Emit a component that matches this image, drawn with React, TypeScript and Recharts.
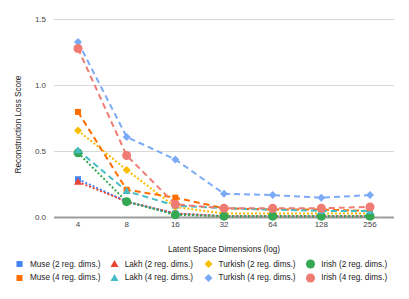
import React from "react";
import {
  LineChart,
  Line,
  XAxis,
  YAxis,
  CartesianGrid,
  ReferenceLine,
  Legend,
} from "recharts";

const dims = ["4", "8", "16", "32", "64", "128", "256"];

const muse2 = [0.29, 0.12, 0.03, 0.01, 0.01, 0.01, 0.01];
const muse4 = [0.8, 0.21, 0.15, 0.07, 0.06, 0.06, 0.05];
const lakh2 = [0.27, 0.12, 0.03, 0.01, 0.01, 0.01, 0.01];
const lakh4 = [0.51, 0.2, 0.09, 0.07, 0.06, 0.05, 0.05];
const turkish2 = [0.66, 0.36, 0.08, 0.03, 0.03, 0.03, 0.03];
const turkish4 = [1.33, 0.61, 0.44, 0.18, 0.17, 0.15, 0.17];
const irish2 = [0.49, 0.12, 0.02, 0.01, 0.01, 0.01, 0.01];
const irish4 = [1.28, 0.47, 0.1, 0.07, 0.07, 0.07, 0.08];

const yTicks = [0, 0.5, 1, 1.5];

type Shape = "square" | "triangle" | "diamond" | "circle";

const series: {
  key: string;
  name: string;
  values: number[];
  color: string;
  shape: Shape;
  dash: string;
}[] = [
  { key: "muse2", name: "Muse (2 reg. dims.)", values: muse2, color: "#4285F4", shape: "square", dash: "2 2" },
  { key: "lakh2", name: "Lakh (2 reg. dims.)", values: lakh2, color: "#EA4335", shape: "triangle", dash: "2 2" },
  { key: "turkish2", name: "Turkish (2 reg. dims.)", values: turkish2, color: "#FBBC04", shape: "diamond", dash: "2 2" },
  { key: "irish2", name: "Irish (2 reg. dims.)", values: irish2, color: "#34A853", shape: "circle", dash: "2 2" },
  { key: "muse4", name: "Muse (4 reg. dims.)", values: muse4, color: "#FF6D01", shape: "square", dash: "6 4" },
  { key: "lakh4", name: "Lakh (4 reg. dims.)", values: lakh4, color: "#46BDC6", shape: "triangle", dash: "6 4" },
  { key: "turkish4", name: "Turkish (4 reg. dims.)", values: turkish4, color: "#7BAAF7", shape: "diamond", dash: "6 4" },
  { key: "irish4", name: "Irish (4 reg. dims.)", values: irish4, color: "#F07B72", shape: "circle", dash: "6 4" },
];

const data = dims.map((d, i) => {
  const row: Record<string, number | string> = { dim: d };
  series.forEach((s) => {
    row[s.key] = s.values[i];
  });
  return row;
});

const font = "Arial, 'Liberation Sans', sans-serif";

function Marker({ shape, color, cx, cy }: { shape: Shape; color: string; cx: number; cy: number }) {
  if (shape === "square") {
    return <rect x={cx - 3} y={cy - 3} width={6} height={6} fill={color} />;
  }
  if (shape === "triangle") {
    return <polygon points={`${cx},${cy - 4} ${cx + 4},${cy + 3} ${cx - 4},${cy + 3}`} fill={color} />;
  }
  if (shape === "diamond") {
    return <polygon points={`${cx},${cy - 4} ${cx + 4},${cy} ${cx},${cy + 4} ${cx - 4},${cy}`} fill={color} />;
  }
  return <circle cx={cx} cy={cy} r={4.5} fill={color} />;
}

function makeDot(shape: Shape, color: string) {
  return (props: any) => {
    const { cx, cy, index } = props;
    if (cx == null || cy == null) return <g key={index} />;
    return <Marker key={index} shape={shape} color={color} cx={cx} cy={cy} />;
  };
}

function LegendGrid() {
  const cols = [0, 1, 2, 3];
  const widths = [96, 95, 104, 90];
  return (
    <div style={{ display: "flex", paddingLeft: 14, fontFamily: font, fontSize: 8.2, color: "#222" }}>
      {cols.map((c) => (
        <div key={c} style={{ width: widths[c] }}>
          {[series[c], series[c + 4]].map((s) => (
            <div key={s.key} style={{ display: "flex", alignItems: "center", height: 13.5 }}>
              <svg width={11} height={10} style={{ marginRight: 5 }}>
                <Marker shape={s.shape} color={s.color} cx={5.5} cy={5} />
              </svg>
              <span>{s.name}</span>
            </div>
          ))}
        </div>
      ))}
    </div>
  );
}

function YTitle(props: any) {
  const vb = props.viewBox;
  const x = vb.x + 18;
  const y = vb.y + vb.height / 2 + 6;
  return (
    <text x={x} y={y} transform={`rotate(-90 ${x} ${y})`} textAnchor="middle" dominantBaseline="central" fontSize={8.2} fill="#222">
      Reconstruction Loss Score
    </text>
  );
}

export default function App() {
  return (
    <div style={{ position: "absolute", left: 0, top: 0, background: "#fff" }}>
      <LineChart
        width={409}
        height={299}
        data={data}
        margin={{ top: 19.5, right: 15, bottom: 14.5, left: 0 }}
        style={{ fontFamily: font }}
      >
        <CartesianGrid vertical={false} stroke="#d9d9d9" />
        <XAxis
          dataKey="dim"
          axisLine={false}
          tickLine={false}
          tickSize={0}
          tickMargin={4}
          height={40}
          interval={0}
          padding={{ left: 24, right: 24 }}
          tick={{ fontSize: 8, fill: "#444" }}
          label={{ value: "Latent Space Dimensions (log)", position: "insideBottom", offset: 6, fontSize: 8.2, fill: "#222" }}
        />
        <YAxis
          width={54}
          domain={[0, 1.5]}
          ticks={yTicks}
          axisLine={false}
          tickLine={false}
          tickSize={0}
          tickMargin={8}
          tickFormatter={(v: number) => v.toFixed(1)}
          tick={{ fontSize: 8, fill: "#444" }}
          label={<YTitle />}
        />
        <ReferenceLine y={0} stroke="#9e9e9e" strokeWidth={2} />
        {series.map((s) => (
          <Line
            key={s.key}
            dataKey={s.key}
            name={s.name}
            stroke={s.color}
            strokeWidth={2}
            strokeDasharray={s.dash}
            dot={makeDot(s.shape, s.color)}
            activeDot={false}
            isAnimationActive={false}
          />
        ))}
        <Legend verticalAlign="bottom" content={<LegendGrid />} />
      </LineChart>
    </div>
  );
}
